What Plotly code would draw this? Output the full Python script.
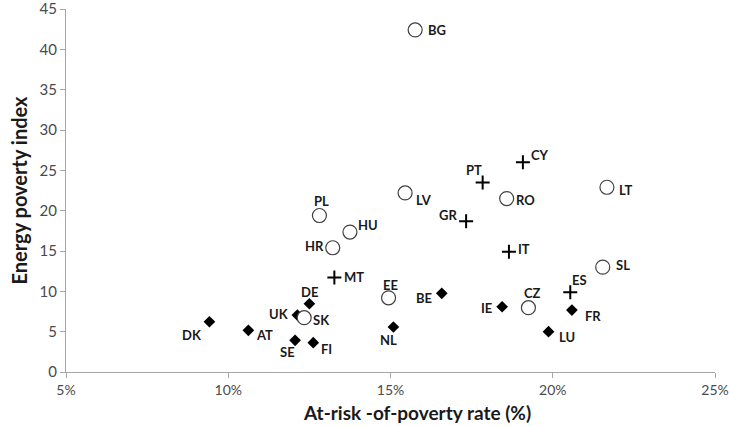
import plotly.graph_objects as go

# circles
circle_codes = ["BG", "PL", "HU", "HR", "LV", "RO", "LT", "SL", "EE", "SK", "CZ"]
circle_x = [15.76, 12.81, 13.75, 13.22, 15.45, 18.58, 21.67, 21.54, 14.94, 12.34, 19.25]
circle_y = [42.4, 19.4, 17.35, 15.4, 22.2, 21.5, 22.9, 13.0, 9.2, 6.73, 7.97]

# crosses
plus_codes = ["CY", "PT", "GR", "IT", "ES", "MT"]
plus_x = [19.08, 17.84, 17.33, 18.65, 20.54, 13.27]
plus_y = [26.0, 23.5, 18.7, 14.9, 9.9, 11.7]

# diamonds
diamond_codes = ["DE", "UK", "DK", "AT", "SE", "FI", "NL", "BE", "IE", "FR", "LU"]
diamond_x = [12.50, 12.13, 9.42, 10.62, 12.06, 12.62, 15.09, 16.58, 18.44, 20.59, 19.87]
diamond_y = [8.46, 7.06, 6.23, 5.17, 3.93, 3.63, 5.58, 9.75, 8.09, 7.68, 5.0]

y_ticks = [0, 5, 10, 15, 20, 25, 30, 35, 40, 45]
x_ticks = [5, 10, 15, 20, 25]
x_tick_labels = ["5%", "10%", "15%", "20%", "25%"]

# label offsets in px (dx, dy up)
label_offsets = {
    "BG": (22, 0), "PL": (2, 15), "HU": (18, 7), "HR": (-18, 2), "LV": (19, -7),
    "RO": (19, -1), "LT": (19, -3), "SL": (20, 2), "EE": (2, 13), "SK": (17, -2),
    "CZ": (4, 15), "CY": (17, 7), "PT": (-9, 12), "GR": (-18, 6), "IT": (15, 3),
    "ES": (9, 12), "MT": (20, 1), "DE": (0, 12), "UK": (-18, 1), "DK": (-17, -13),
    "AT": (16, -5), "SE": (-8, -12), "FI": (13, -6), "NL": (-5, -13), "BE": (-18, -5),
    "IE": (-16, -1), "FR": (21, -6), "LU": (18, -5),
}

fig = go.Figure()
fig.add_trace(go.Scatter(x=diamond_x, y=diamond_y, mode="markers",
                         marker=dict(symbol="diamond", size=9, color="black")))
fig.add_trace(go.Scatter(x=plus_x, y=plus_y, mode="markers",
                         marker=dict(symbol="cross-thin", size=10,
                                     line=dict(color="black", width=2))))
fig.add_trace(go.Scatter(x=circle_x, y=circle_y, mode="markers",
                         marker=dict(symbol="circle", size=14, color="white",
                                     line=dict(color="#404040", width=1.2))))

for codes, xs, ys in [(circle_codes, circle_x, circle_y),
                      (plus_codes, plus_x, plus_y),
                      (diamond_codes, diamond_x, diamond_y)]:
    for c, xv, yv in zip(codes, xs, ys):
        dx, dy = label_offsets[c]
        fig.add_annotation(x=xv, y=yv, text=f"<b>{c}</b>", showarrow=False,
                           xshift=dx, yshift=dy,
                           font=dict(family="Lato", size=13, color="#1a1a1a"))

# x axis title sits a bit right of centre in the original
fig.add_annotation(xref="paper", yref="paper", x=0.541, y=-0.112,
                   text="<b>At-risk -of-poverty rate (%)</b>", showarrow=False,
                   xanchor="center", yanchor="middle",
                   font=dict(family="Lato", size=19, color="#1a1a1a"))

fig.update_layout(
    width=729, height=426,
    showlegend=False,
    plot_bgcolor="white", paper_bgcolor="white",
    margin=dict(l=66, r=14, t=9, b=54),
    font=dict(family="Lato", size=15, color="#4a4a4a"),
    xaxis=dict(range=[5, 25], tickvals=x_ticks, ticktext=x_tick_labels,
               tickfont=dict(size=14),
               showgrid=False, zeroline=False, showline=True, automargin=False,
               linecolor="#a6a6a6", linewidth=1, ticklabeloverflow="allow",
               ticks="outside", ticklen=5, tickcolor="#a6a6a6"),
    yaxis=dict(range=[0, 45], tickvals=y_ticks, showgrid=False, zeroline=False,
               showline=True, linecolor="#a6a6a6", linewidth=1, automargin=False,
               ticklabeloverflow="allow",
               ticks="outside", ticklen=5, tickcolor="#a6a6a6",
               title=dict(text="<b>Energy poverty index</b>",
                          font=dict(family="Lato", size=20, color="#1a1a1a"),
                          standoff=6)),
)

fig.write_html("out.html", config={"displayModeBar": False},
               post_script="document.body.style.margin='0';")
